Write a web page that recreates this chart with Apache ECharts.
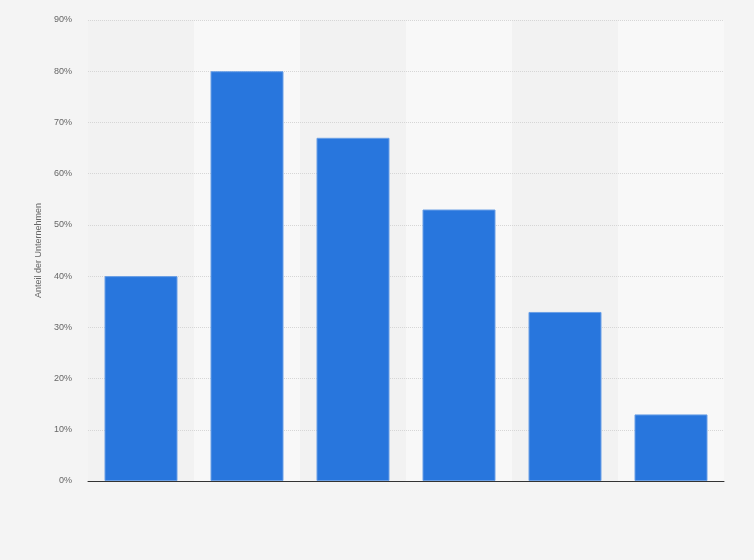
<!DOCTYPE html>
<html>
<head>
<meta charset="utf-8">
<script src="https://cdn.jsdelivr.net/npm/echarts@6/dist/echarts.min.js"></script>
<style>
  html, body { margin: 0; padding: 0; background: #f4f4f4; }
  #main { width: 754px; height: 560px; }
</style>
</head>
<body>
<div id="main"></div>
<script>
  // categories are not labelled in the picture
  var kategorien = ['A', 'B', 'C', 'D', 'E', 'F'];
  var anteil = [40, 80, 67, 53, 33, 13];
  var yTicks = [0, 10, 20, 30, 40, 50, 60, 70, 80, 90];

  var myChart = echarts.init(document.getElementById('main'));

  myChart.setOption({
    backgroundColor: '#f4f4f4',
    animation: false,
    grid: {
      left: 88,
      right: 30,
      top: 20,
      bottom: 79
    },
    xAxis: [{
      type: 'category',
      data: kategorien,
      z: 0,
      axisLine: { lineStyle: { color: '#333', width: 1 } },
      axisTick: { show: false },
      axisLabel: { show: false },
      splitArea: {
        show: true,
        areaStyle: { color: ['#f2f2f2', '#f8f8f8'] }
      }
    }],
    yAxis: [{
      type: 'value',
      z: 1,
      min: yTicks[0],
      max: yTicks[yTicks.length - 1],
      interval: 10,
      name: 'Anteil der Unternehmen',
      nameLocation: 'middle',
      nameGap: 44,
      nameTextStyle: { color: '#666', fontSize: 9, fontFamily: 'Liberation Sans' },
      axisLine: { show: false },
      axisTick: { show: false },
      axisLabel: {
        color: '#666',
        fontSize: 9,
        fontFamily: 'Liberation Sans',
        margin: 16,
        formatter: '{value}%'
      },
      splitLine: {
        show: true,
        showMinLine: false,
        lineStyle: { color: '#d6d6d6', type: 'dotted', width: 1 }
      }
    }],
    series: [{
      type: 'bar',
      data: anteil,
      barWidth: 73,
      z: 3,
      itemStyle: {
        color: '#2876dd',
        borderColor: '#6a9fe6',
        borderWidth: 1
      }
    }]
  });
</script>
</body>
</html>
